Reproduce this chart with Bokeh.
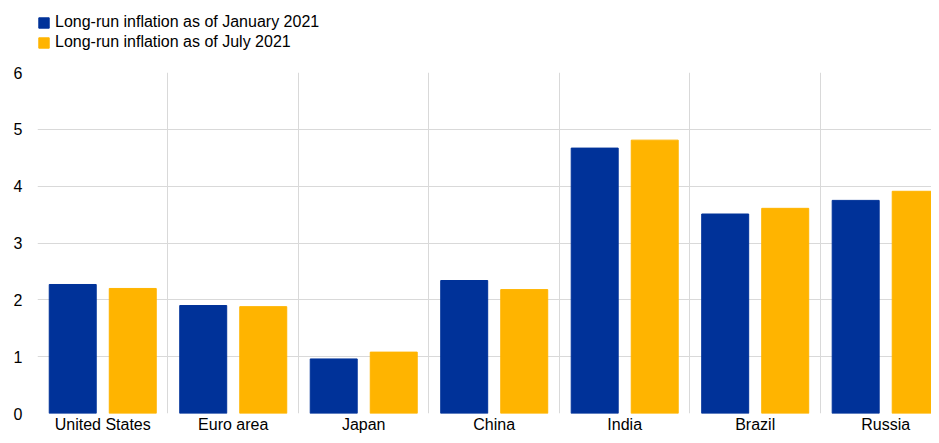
from bokeh.plotting import figure
from bokeh.layouts import column
from bokeh.models import ColumnDataSource, Range1d, FixedTicker, Legend, LegendItem
from bokeh.transform import dodge
from bokeh.embed import file_html
from bokeh.resources import INLINE

categories = ["United States", "Euro area", "Japan", "China", "India", "Brazil", "Russia"]
jan_2021 = [2.27, 1.90, 0.96, 2.34, 4.67, 3.51, 3.75]
jul_2021 = [2.20, 1.88, 1.08, 2.18, 4.81, 3.61, 3.91]
y_ticks = [0, 1, 2, 3, 4, 5, 6]
series_names = ["Long-run inflation as of January 2021", "Long-run inflation as of July 2021"]

BLUE = "#003299"
YELLOW = "#FFB400"
GRID = "#D9D9D9"
FONT = "Liberation Sans"

pos = [i + 0.5 for i in range(len(categories))]
src = ColumnDataSource(dict(x=pos, jan=jan_2021, jul=jul_2021))

# ---- main chart ----
p = figure(width=931, height=371, output_backend="svg", toolbar_location=None,
           x_range=Range1d(0, 6.851), y_range=Range1d(0, 6),
           min_border_left=37, min_border_right=0, min_border_top=8, min_border_bottom=21)
p.outline_line_color = None
p.background_fill_color = "white"

p.vbar(x=dodge("x", -0.23), top="jan", width=0.36, source=src,
       fill_color=BLUE, line_color=BLUE)
p.vbar(x=dodge("x", 0.23), top="jul", width=0.36, source=src,
       fill_color=YELLOW, line_color=YELLOW)

p.yaxis.ticker = FixedTicker(ticks=y_ticks)
p.xaxis.ticker = FixedTicker(ticks=pos)
p.xaxis.major_label_overrides = {x: c for x, c in zip(pos, categories)}
for ax in (p.xaxis[0], p.yaxis[0]):
    ax.axis_line_color = None
    ax.major_tick_line_color = None
    ax.minor_tick_line_color = None
    ax.major_tick_out = 0
    ax.major_tick_in = 0
    ax.major_label_text_font = FONT
    ax.major_label_text_font_size = "16px"
    ax.major_label_text_color = "#000000"
p.yaxis.major_label_standoff = 15
p.xaxis.major_label_standoff = 2

p.ygrid.ticker = FixedTicker(ticks=y_ticks)
p.xgrid.ticker = FixedTicker(ticks=list(range(len(categories) + 1)))
p.xgrid.grid_line_color = GRID
p.ygrid.grid_line_color = GRID

# ---- legend strip (its bar renderers lie outside its visible range) ----
lg = figure(width=931, height=64, output_backend="svg", toolbar_location=None,
            x_range=Range1d(0, 1), y_range=Range1d(100, 101),
            x_axis_location=None, y_axis_location=None,
            min_border_left=37, min_border_right=0, min_border_top=0, min_border_bottom=0)
lg.outline_line_color = None
lg.grid.visible = False
k1 = lg.vbar(x=dodge("x", -0.23), top="jan", width=0.36, source=src,
             fill_color=BLUE, line_color=BLUE)
k2 = lg.vbar(x=dodge("x", 0.23), top="jul", width=0.36, source=src,
             fill_color=YELLOW, line_color=YELLOW)

legend = Legend(items=[LegendItem(label=series_names[0], renderers=[k1]),
                       LegendItem(label=series_names[1], renderers=[k2])],
                location=(0, 13), orientation="vertical",
                glyph_width=13, glyph_height=13, label_height=13,
                label_standoff=5, spacing=2, padding=0, margin=0,
                label_text_font=FONT, label_text_font_size="16px",
                label_text_color="#000000",
                border_line_color=None, background_fill_alpha=0)
lg.add_layout(legend, "center")

layout = column(lg, p, spacing=0)
open("out.html", "w").write(file_html(layout, INLINE))
